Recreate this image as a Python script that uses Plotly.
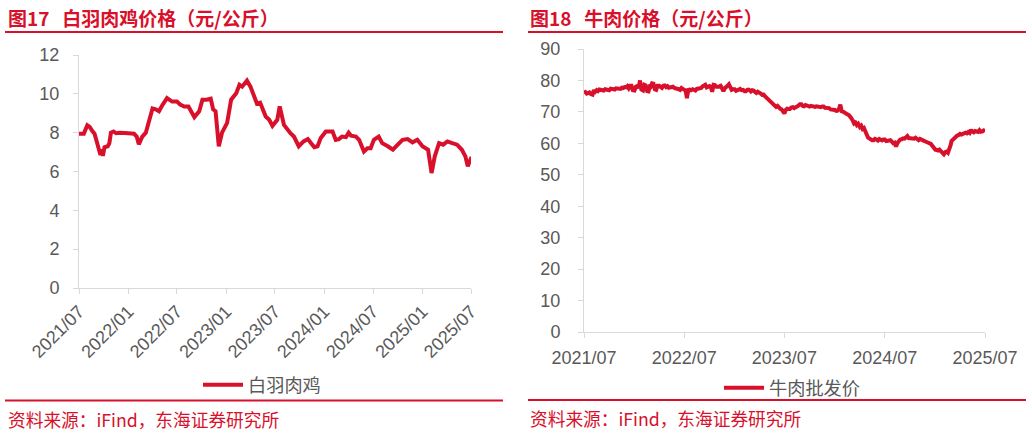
import plotly.graph_objects as go

# ---------------- data ----------------
chicken_dates = [
    "2021-07-01", "2021-07-19", "2021-08-01", "2021-08-10", "2021-08-19", "2021-08-28",
    "2021-09-04", "2021-09-13", "2021-09-19", "2021-09-25", "2021-09-28", "2021-10-04",
    "2021-10-16", "2021-10-22", "2021-10-28", "2021-11-07", "2021-11-16", "2021-12-01",
    "2021-12-16", "2022-01-01", "2022-01-22", "2022-02-01", "2022-02-09", "2022-02-22",
    "2022-03-07", "2022-03-19", "2022-04-01", "2022-04-13", "2022-04-25", "2022-05-07",
    "2022-05-25", "2022-06-13", "2022-07-01", "2022-07-13", "2022-07-28", "2022-08-13",
    "2022-09-04", "2022-09-22", "2022-10-04", "2022-10-19", "2022-11-04", "2022-11-13",
    "2022-11-22", "2022-12-04", "2022-12-16", "2023-01-04", "2023-01-19", "2023-02-07",
    "2023-02-19", "2023-03-01", "2023-03-19", "2023-04-01", "2023-04-25", "2023-05-07",
    "2023-05-28", "2023-06-10", "2023-06-22", "2023-07-10", "2023-07-19", "2023-08-04",
    "2023-08-16", "2023-08-28", "2023-09-10", "2023-09-28", "2023-10-16", "2023-11-01",
    "2023-11-13", "2023-11-25", "2023-12-07", "2023-12-19", "2024-01-07", "2024-02-01",
    "2024-02-13", "2024-02-25", "2024-03-07", "2024-03-22", "2024-04-01", "2024-04-10",
    "2024-04-28", "2024-05-10", "2024-05-28", "2024-06-10", "2024-06-22", "2024-07-04",
    "2024-07-22", "2024-08-04", "2024-08-25", "2024-09-13", "2024-10-01", "2024-10-19",
    "2024-11-07", "2024-11-25", "2024-12-13", "2025-01-01", "2025-01-22", "2025-02-04",
    "2025-02-16", "2025-03-04", "2025-03-19", "2025-04-04", "2025-04-22", "2025-05-10",
    "2025-05-28", "2025-06-10", "2025-06-19", "2025-06-26", "2025-07-03",
]
chicken_values = [
    7.95, 7.95, 8.38, 8.30, 8.10, 7.95,
    7.60, 7.00, 6.85, 7.15, 6.80, 7.25,
    7.30, 7.45, 8.00, 8.06, 7.97, 8.00,
    7.97, 7.97, 7.95, 7.80, 7.40, 7.80,
    8.00, 8.60, 9.25, 9.20, 9.10, 9.40,
    9.78, 9.60, 9.60, 9.45, 9.35, 9.35,
    8.80, 9.10, 9.70, 9.70, 9.75, 9.20,
    9.10, 7.30, 8.00, 8.50, 9.70, 10.03,
    10.46, 10.37, 10.68, 10.37, 9.50, 9.55,
    8.83, 8.66, 8.35, 8.66, 9.35, 8.40,
    8.15, 7.97, 7.80, 7.30, 7.55, 7.67,
    7.46, 7.25, 7.30, 7.72, 8.06, 8.06,
    7.63, 7.67, 7.80, 7.77, 8.00, 7.84,
    7.80, 7.63, 7.03, 7.20, 7.20, 7.63,
    7.80, 7.46, 7.30, 7.12, 7.38, 7.63,
    7.67, 7.50, 7.63, 7.30, 7.12, 5.92,
    6.78, 7.46, 7.38, 7.55, 7.46, 7.38,
    7.12, 6.78, 6.27, 6.52, 6.75,
]

beef_months = [
    "2021-07", "2021-08", "2021-09", "2021-10", "2021-11", "2021-12",
    "2022-01", "2022-02", "2022-03", "2022-04", "2022-05", "2022-06",
    "2022-07", "2022-08", "2022-09", "2022-10", "2022-11", "2022-12",
    "2023-01", "2023-02", "2023-03", "2023-04", "2023-05", "2023-06",
    "2023-07", "2023-08", "2023-09", "2023-10", "2023-11", "2023-12",
    "2024-01", "2024-02", "2024-03", "2024-04", "2024-05", "2024-06",
    "2024-07", "2024-08", "2024-09", "2024-10", "2024-11", "2024-12",
    "2025-01", "2025-02", "2025-03", "2025-04", "2025-05", "2025-06",
]
beef_days = ["01", "06", "11", "16", "21", "26"]
beef_values = [
    76.0, 76.3, 75.8, 76.1, 76.2, 75.7,
    75.5, 76.9, 76.4, 76.9, 76.6, 77.1,
    77.0, 76.7, 76.8, 77.2, 77.2, 76.9,
    76.9, 77.4, 77.3, 77.0, 77.1, 77.5,
    77.5, 77.2, 77.3, 77.7, 77.6, 77.9,
    77.8, 78.2, 77.5, 78.3, 78.3, 76.9,
    76.8, 78.0, 78.2, 77.6, 80.0, 77.1,
    76.8, 78.6, 78.4, 76.6, 76.5, 78.1,
    78.0, 79.1, 79.0, 77.2, 77.0, 78.3,
    78.3, 77.9, 77.6, 78.3, 78.4, 77.9,
    78.2, 77.7, 77.9, 78.1, 78.0, 77.6,
    77.5, 77.6, 77.2, 77.0, 77.6, 77.3,
    77.0, 76.8, 74.4, 77.0, 77.1, 76.9,
    77.2, 77.0, 76.8, 77.3, 77.4, 77.6,
    77.6, 78.1, 78.5, 78.6, 77.8, 78.0,
    78.2, 77.9, 76.4, 78.6, 78.5, 78.0,
    77.9, 78.1, 78.3, 77.4, 76.6, 77.5,
    77.8, 78.3, 78.8, 77.4, 77.0, 77.2,
    77.2, 76.7, 76.9, 77.1, 77.3, 76.9,
    77.0, 76.6, 76.6, 77.0, 77.1, 76.8,
    76.5, 76.9, 76.8, 76.3, 76.0, 76.4,
    76.2, 75.8, 75.4, 75.5, 75.0, 74.6,
    74.0, 73.5, 73.0, 72.6, 72.2, 71.9,
    71.6, 71.9, 71.2, 71.0, 70.8, 70.3,
    69.5, 70.6, 71.0, 70.9, 70.9, 71.4,
    71.5, 71.2, 71.4, 71.9, 72.0, 72.4,
    72.4, 71.9, 71.8, 72.2, 72.1, 71.7,
    71.7, 71.9, 71.8, 71.5, 71.6, 71.8,
    71.6, 71.5, 71.5, 71.7, 71.7, 71.3,
    71.3, 71.1, 71.2, 70.8, 70.9, 70.7,
    70.6, 70.3, 70.4, 70.9, 72.3, 70.2,
    70.0, 69.6, 69.5, 69.2, 69.0, 68.6,
    68.0, 67.3, 66.3, 66.6, 65.8, 66.2,
    65.2, 65.6, 64.6, 64.9, 63.5, 62.8,
    61.8, 61.5, 61.3, 61.0, 61.0, 61.4,
    61.2, 60.9, 61.4, 61.0, 60.9, 61.2,
    61.2, 60.7, 60.8, 61.2, 61.0, 60.6,
    60.0, 60.2, 59.0, 60.1, 61.0, 61.2,
    61.3, 61.6, 61.5, 62.0, 62.3, 61.7,
    61.6, 61.8, 61.4, 61.5, 61.8, 61.2,
    61.0, 61.4, 61.3, 60.9, 60.8, 60.6,
    60.4, 60.5, 60.0, 59.8, 59.2, 58.4,
    58.0, 57.9, 57.7, 58.0, 57.5, 57.2,
    56.5, 57.2, 57.4, 57.0, 58.0, 59.5,
    60.7, 61.2, 61.6, 62.0, 62.4, 62.6,
    63.0, 62.8, 63.1, 63.3, 63.4, 63.2,
    63.6, 63.3, 64.3, 63.7, 63.5, 63.9,
    63.9, 63.6, 64.2, 63.7, 63.8, 64.1,
]
beef_end = ("2025-07-01", 63.7)

chicken_ticks = ["2021-07-01", "2022-01-01", "2022-07-01", "2023-01-01", "2023-07-01",
                 "2024-01-01", "2024-07-01", "2025-01-01", "2025-07-01"]
chicken_ticktext = ["2021/07", "2022/01", "2022/07", "2023/01", "2023/07",
                    "2024/01", "2024/07", "2025/01", "2025/07"]
beef_ticks = ["2021-07-01", "2022-07-01", "2023-07-01", "2024-07-01", "2025-07-01"]
beef_ticktext = ["2021/07", "2022/07", "2023/07", "2024/07", "2025/07"]

title_left = "图17\u00a0\u00a0\u00a0白羽肉鸡价格（元/公斤）"
title_right = "图18\u00a0\u00a0\u00a0牛肉价格（元/公斤）"
source_text = "资料来源：iFind，东海证券研究所"
name_left = "白羽肉鸡"
name_right = "牛肉批发价"

# ---------------- build ----------------
beef_dates = [f"{m}-{d}" for m in beef_months for d in beef_days] + [beef_end[0]]
beef_all = beef_values + [beef_end[1]]

RED = "#d8102b"
GRAY_TXT = "#595959"
AXIS = "#d9d9d9"
FONT = "Liberation Sans, Arial, Noto Sans CJK SC, sans-serif"
CJK = "Noto Sans CJK SC, sans-serif"
W, H = 1032, 433

fig = go.Figure()
fig.add_trace(go.Scatter(x=chicken_dates, y=chicken_values, mode="lines", name=name_left,
                         line=dict(color=RED, width=4), xaxis="x", yaxis="y", legend="legend"))
fig.add_trace(go.Scatter(x=beef_dates, y=beef_all, mode="lines", name=name_right,
                         line=dict(color=RED, width=4), xaxis="x2", yaxis="y2", legend="legend2"))

def px_x(p):
    return p / W

def px_y(p):
    return 1 - p / H

axis_common = dict(showline=True, linecolor=AXIS, linewidth=1, ticks="outside",
                   tickcolor=AXIS, ticklen=5, showgrid=False, zeroline=False,
                   automargin=False,
                   tickfont=dict(family=FONT, size=18, color=GRAY_TXT))

legend_common = dict(xanchor="left", yanchor="middle", itemwidth=40,
                     font=dict(family=FONT, size=18.2, color=GRAY_TXT),
                     bgcolor="rgba(0,0,0,0)")

fig.update_layout(
    width=W, height=H, margin=dict(l=0, r=0, t=0, b=0, autoexpand=False),
    paper_bgcolor="white", plot_bgcolor="white",
    font=dict(family=FONT, color=GRAY_TXT),
    xaxis=dict(domain=[px_x(79), px_x(471)], type="date", anchor="y",
               range=["2021-07-01", "2025-07-01"], tickvals=chicken_ticks,
               ticktext=chicken_ticktext, tickangle=-45, **axis_common),
    yaxis=dict(domain=[px_y(288), px_y(55)], range=[0, 12], dtick=2, anchor="x",
               ticklabelstandoff=10, **axis_common),
    xaxis2=dict(domain=[px_x(584), px_x(985)], type="date", anchor="y2",
                range=["2021-07-01", "2025-07-01"], tickvals=beef_ticks,
                ticktext=beef_ticktext, tickangle=0, ticklabelstandoff=4, **axis_common),
    yaxis2=dict(domain=[px_y(332), px_y(49)], range=[0, 90], dtick=10, anchor="x2",
                ticklabelstandoff=14, **axis_common),
    legend=dict(x=px_x(198), y=px_y(385), **legend_common),
    legend2=dict(x=px_x(719), y=px_y(388), **legend_common),
    showlegend=True,
)

shapes = []
for x0, x1, y in [(5, 503, 32), (528, 1026, 32), (5, 503, 400.5), (528, 1026, 400)]:
    shapes.append(dict(type="line", xref="paper", yref="paper", x0=px_x(x0), x1=px_x(x1),
                       y0=px_y(y), y1=px_y(y), line=dict(color=RED, width=2)))
fig.update_layout(shapes=shapes)

ann = []
for x, text in [(6, title_left), (528, title_right)]:
    ann.append(dict(text=f"<b>{text}</b>", x=px_x(x), y=px_y(17), xref="paper", yref="paper",
                    xanchor="left", yanchor="middle", showarrow=False,
                    font=dict(family=CJK, size=19, color=RED)))
for x, y in [(6, 419), (528, 418)]:
    ann.append(dict(text=source_text, x=px_x(x), y=px_y(y), xref="paper", yref="paper",
                    xanchor="left", yanchor="middle", showarrow=False,
                    font=dict(family=CJK, size=17.7, color=RED)))
fig.update_layout(annotations=ann)

fig.write_html("out.html", config={"displayModeBar": False},
               post_script="document.body.style.margin='0';document.body.style.padding='0';"
                           "document.body.style.overflow='hidden';")
